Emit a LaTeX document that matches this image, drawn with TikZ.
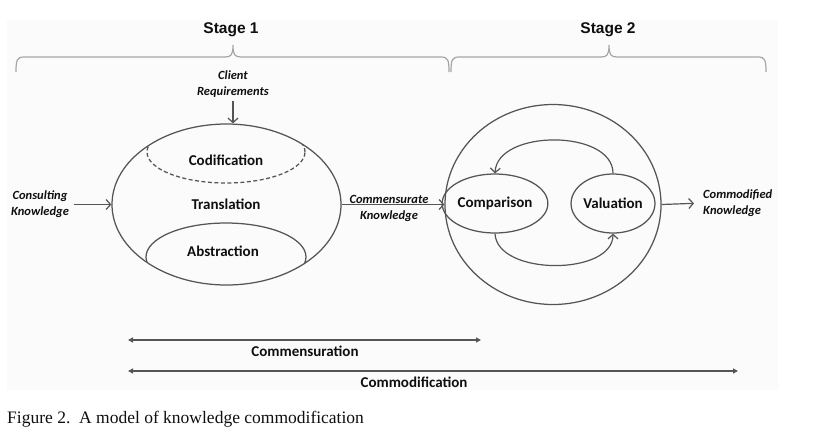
\documentclass[tikz,border=0pt]{standalone}
\usepackage{fontspec}
\setmainfont{Carlito}
\newfontfamily\stagefont{Liberation Sans}
\newfontfamily\capfont{Liberation Serif}
\usetikzlibrary{shapes.geometric,arrows.meta}
\definecolor{ln}{RGB}{85,85,85}
\definecolor{br}{RGB}{165,165,165}
\definecolor{tx}{RGB}{15,15,15}
\definecolor{pan}{RGB}{251,251,251}
\begin{document}
\begin{tikzpicture}[x=1pt,y=-1pt,
  oval/.style={ellipse, draw=ln, line width=1.25pt, inner sep=0pt},
  lbl/.style={font=\fontsize{15}{17}\selectfont\bfseries, text=tx, inner sep=0pt},
  ital/.style={font=\fontsize{12.5}{16}\selectfont\bfseries\itshape, text=tx, align=center, inner sep=0pt},
  flow/.style={draw=ln, line width=1.2pt, -{Straight Barb[length=4.5pt,width=10pt,line width=1.2pt]}},
  span/.style={draw=ln, line width=1.5pt, {Triangle[length=5pt,width=5pt]}-{Triangle[length=5pt,width=5pt]}},
  bracepath/.style={draw=br, line width=1.2pt},
  stage/.style={font=\stagefont\fontsize{15.5}{18}\selectfont\bfseries, text=tx, inner sep=0pt}
]
\useasboundingbox (0,0) rectangle (818,440);
\fill[white] (0,0) rectangle (818,440);
\fill[pan] (7,20) rectangle (778,390);

% stages and braces
\node[stage] (s1) at (231,30) {Stage 1};
\node[stage] (s2) at (608,30) {Stage 2};
\draw[bracepath] (16,72) .. controls (16,60) and (17,57) .. (24,57) -- (225,57)
  .. controls (231,57) and (233,55) .. (233,45) .. controls (233,55) and (235,57) .. (241,57)
  -- (441,57) .. controls (448,57) and (449,60) .. (449,72);
\draw[bracepath] (451,72) .. controls (451,60) and (452,57) .. (459,57) -- (601,57)
  .. controls (607,57) and (609,55) .. (609,45) .. controls (609,55) and (611,57) .. (617,57)
  -- (758,57) .. controls (765,57) and (766,60) .. (766,72);

% stage 1
\node[ital] (client) at (233,84) {Client\\Requirements};
\node[oval, minimum width=229pt, minimum height=161pt] (trans) at (226.5,204.5) {};
\begin{scope}
  \path[clip] (trans.center) ellipse [x radius=114.5pt, y radius=80.5pt];
  \node[oval, dashed, dash pattern=on 4pt off 2.5pt, minimum width=158pt, minimum height=62pt] (cod) at (226,152) {};
  \node[oval, minimum width=160pt, minimum height=68pt] (abs) at (226,257) {};
\end{scope}
\node[lbl] (codt) at (226,160) {Codification};
\node[lbl] (transt) at (226,204) {Translation};
\node[lbl] (abst) at (223,251) {Abstraction};

\node[ital] (cons) at (40,204.5) {Consulting\\Knowledge};
\draw[flow, shorten <=5pt] (cons) -- (trans);
\draw[flow, shorten <=3pt] (client.south) -- (client.south |- trans.north);

% stage 2
\node[oval, minimum width=216pt, minimum height=200pt] (st2) at (553,204.5) {};
\node[oval, lbl, minimum width=84pt, minimum height=59pt] (compar) at (495,203.5) {Comparison};
\node[oval, lbl, minimum width=78pt, minimum height=59pt] (val) at (613,203.5) {Valuation};
\draw[flow] (val.north) .. controls (613,129) and (497,129) .. (compar.north);
\draw[flow] (compar.south) .. controls (497,276) and (613,276) .. (val.south);

\node[ital] (comt) at (389,208) {Commensurate\\Knowledge};
\draw[flow] (trans.east) -- (st2.west);

\node[ital, anchor=west, align=left] (comod) at (703,203) {Commodified\\Knowledge};
\draw[flow, shorten >=9pt] (st2.east) -- (comod.west);

% spans
\coordinate (a1) at (128,340);
\coordinate (a2) at (481,340);
\draw[span] (a1) -- (a2);
\node[lbl] (commens) at (305,351) {Commensuration};
\coordinate (b1) at (128,371);
\coordinate (b2) at (738,371);
\draw[span] (b1) -- (b2);
\node[lbl] (commod) at (414,382) {Commodification};

% caption
\node[font=\capfont\fontsize{17.5}{20}\selectfont, anchor=west, inner sep=0pt, text=tx] (cap) at (7,419) {Figure 2.\ \ A model of knowledge commodification};
\end{tikzpicture}
\end{document}
